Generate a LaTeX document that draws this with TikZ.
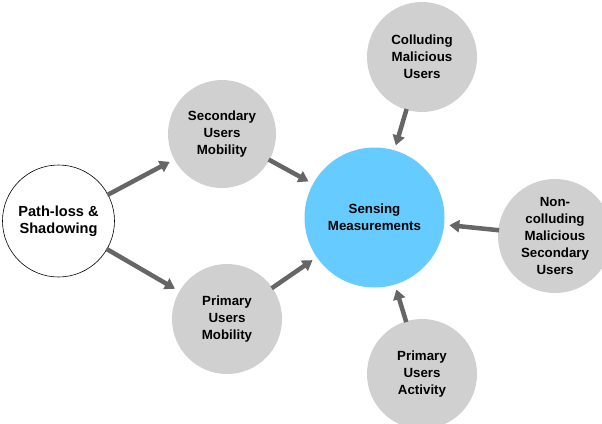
\documentclass[tikz,border=0pt]{standalone}
\usepackage{fontspec}
\setmainfont{Liberation Sans}
\usetikzlibrary{arrows.meta}
\definecolor{cgray}{HTML}{D0D0D0}
\definecolor{cblue}{HTML}{66CCFF}
\definecolor{carrow}{HTML}{666666}
\tikzset{
  bubble/.style={circle, inner sep=0pt, align=center, font=\fontsize{13.3}{17}\selectfont\bfseries},
  graybub/.style={bubble, fill=cgray},
  link/.style={line width=4.5pt, draw=carrow, -{Triangle[length=10pt,width=12pt]}, shorten >=5pt, shorten <=-1pt}
}
\begin{document}
\begin{tikzpicture}[x=1pt,y=-1pt]
\useasboundingbox (0,0) rectangle (602,423);
\fill[white] (0,0) rectangle (602,423);
\node[bubble, draw=black, line width=0.6pt, fill=white, minimum size=112pt, font=\fontsize{14.6}{17}\selectfont\bfseries] (pl) at (58.5,221) {Path-loss \&\\Shadowing};
\node[graybub, minimum size=108pt] (sum) at (222,134) {Secondary\\Users\\Mobility};
\node[graybub, minimum size=110pt] (pum) at (227,319) {Primary\\Users\\Mobility};
\node[bubble, fill=cblue, minimum size=140pt] (sm) at (374.5,217.5) {Sensing\\Measurements};
\node[graybub, minimum size=110pt] (cmu) at (422,57) {Colluding\\Malicious\\Users};
\node[graybub, minimum size=114pt] (nmu) at (555,236) {Non-\\colluding\\Malicious\\Secondary\\Users};
\node[graybub, minimum size=110pt] (pua) at (422,374) {Primary\\Users\\Activity};
\draw[link] (pl) -- (sum);
\draw[link] (pl) -- (pum);
\draw[link] (sum) -- (sm);
\draw[link] (pum) -- (sm);
\draw[link] (cmu) -- (sm);
\draw[link] (nmu) -- (sm);
\draw[link] (pua) -- (sm);
\end{tikzpicture}
\end{document}
